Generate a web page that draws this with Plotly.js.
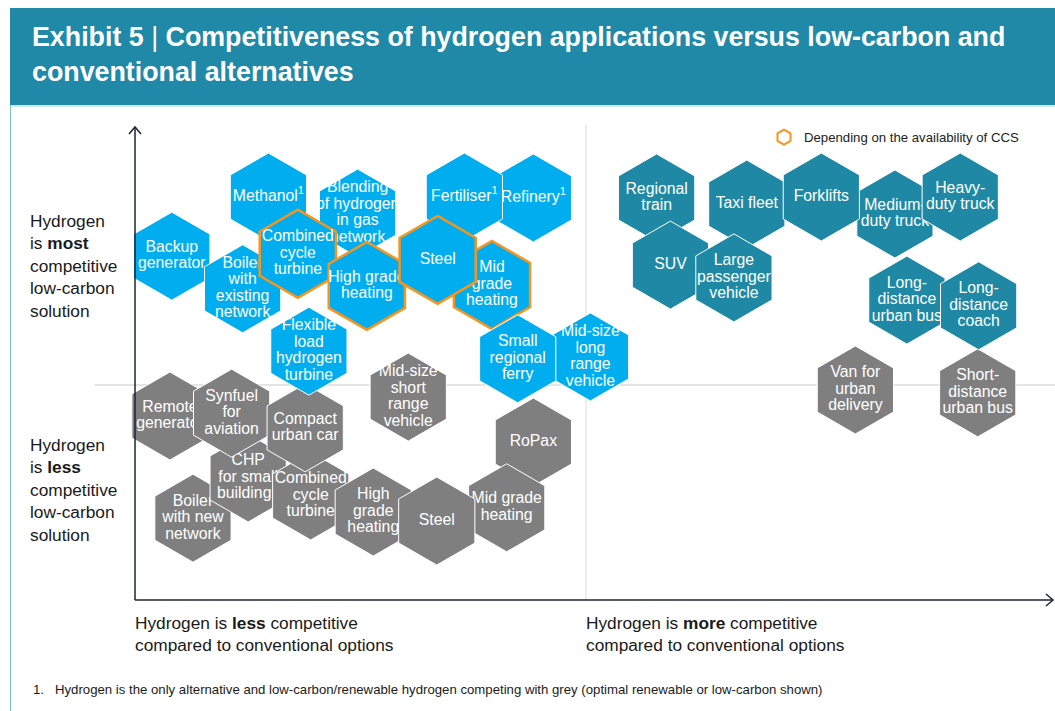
<!DOCTYPE html>
<html>
<head>
<meta charset="utf-8">
<script src="https://cdn.plot.ly/plotly-3.0.1.min.js"></script>
<style>html,body{margin:0;padding:0;background:#fff;}#chart{width:1055px;height:711px;}</style>
</head>
<body>
<div id="chart"></div>
<script>
// ---- Data: position on a 0-100 scale (x: vs conventional options, y: vs low-carbon alternatives)
// Grey: hydrogen less competitive vs low-carbon alternatives (draw order)
const greyLabels = ["Remote|generator","Boiler|with new|network","CHP|for small|buildings","Synfuel|for|aviation","Combined|cycle|turbine","Compact|urban car","High|grade|heating","Mid-size|short|range|vehicle","RoPax","Mid grade|heating","Steel","Van for|urban|delivery","Short-|distance|urban bus"];
const greyX = [3.8, 6.3, 12.3, 10.5, 19.1, 18.5, 25.9, 29.7, 43.3, 40.4, 32.8, 78.3, 91.6];
const greyY = [38.9, 17.3, 25.8, 39.5, 22.0, 36.4, 18.6, 42.9, 33.4, 19.5, 16.7, 44.4, 43.8];

// Light blue: hydrogen most competitive low-carbon, less competitive vs conventional
const blueLabels = ["Refinery<sup>1</sup>","Fertiliser<sup>1</sup>","Methanol<sup>1</sup>","Blending|of hydrogen|in gas|network","Backup|generator","Boiler|with|existing|network","Combined|cycle|turbine","Mid-size|long|range|vehicle","Mid|grade|heating","Small|regional|ferry","High grade|heating","Steel","Flexible|load|hydrogen|turbine"];
const blueX = [43.3, 35.8, 14.5, 24.2, 4.0, 11.7, 17.7, 49.5, 38.8, 41.6, 25.2, 32.9, 18.9];
const blueY = [85.0, 85.2, 85.2, 81.8, 72.7, 65.8, 73.2, 51.4, 66.6, 51.0, 66.4, 71.9, 52.6];
const blueCCS = [false, false, false, false, false, false, true, false, true, false, true, true, false];

// Teal: hydrogen most competitive on both dimensions
const tealLabels = ["Regional|train","SUV","Taxi fleet","Large|passenger|vehicle","Medium-|duty truck","Forklifts","Heavy-|duty truck","Long-|distance|urban bus","Long-|distance|coach"];
const tealX = [56.7, 58.2, 66.5, 65.1, 82.6, 74.6, 89.7, 83.9, 91.7];
const tealY = [85.0, 70.8, 83.7, 68.1, 81.6, 85.2, 85.2, 63.4, 62.2];

const legendLabel = "Depending on the availability of CCS";

// ---- Styling
const W = 1055, H = 711;
const M = {l: 135, r: 0, t: 127, b: 111};
const PW = W - M.l - M.r, PH = H - M.t - M.b;
const FONT = "Liberation Sans, Arial, Helvetica, sans-serif";
const C_GREY = "#7f7f7f", C_BLUE = "#00aeef", C_TEAL = "#1f89a5", C_ORANGE = "#f7941d";
const C_HEAD = "#2089a7";
const HEX = 88;
const lineGap = 16.5 / PH * 100; // text line spacing in data units

// pixel -> paper helpers for decoration
const P = px => (px - M.l) / PW;
const Q = py => (H - M.b - py) / PH;

const traces = [];
function addHex(label, x, y, color, ccs) {
  traces.push({
    x: [x], y: [y], type: "scatter", mode: "markers", cliponaxis: false,
    hoverinfo: "skip", showlegend: false,
    marker: {symbol: "hexagon", size: HEX, color: color,
      line: {color: ccs ? C_ORANGE : "#ffffff", width: ccs ? 2.5 : 1}}
  });
  const lines = label.split("|");
  const n = lines.length;
  traces.push({
    x: lines.map(() => x),
    y: lines.map((_, i) => y + ((n - 1) / 2 - i) * lineGap),
    type: "scatter", mode: "text", text: lines, textposition: "middle center",
    cliponaxis: false, hoverinfo: "skip", showlegend: false,
    textfont: {color: "#ffffff", size: 15.8, family: FONT}
  });
}
greyLabels.forEach((l, i) => addHex(l, greyX[i], greyY[i], C_GREY, false));
blueLabels.forEach((l, i) => addHex(l, blueX[i], blueY[i], C_BLUE, blueCCS[i]));
tealLabels.forEach((l, i) => addHex(l, tealX[i], tealY[i], C_TEAL, false));

// legend key
traces.push({
  x: [null], y: [null], type: "scatter", mode: "markers", name: legendLabel,
  showlegend: true, hoverinfo: "skip",
  marker: {symbol: "hexagon-open", size: 15, color: C_ORANGE, line: {color: C_ORANGE, width: 2}}
});

const AX = "#1b2535";
const shapes = [
  // header band
  {type: "rect", xref: "paper", yref: "paper", x0: P(10), x1: P(1055), y0: Q(105), y1: Q(8),
   fillcolor: C_HEAD, line: {width: 0}, layer: "below"},
  // frame lines
  {type: "line", xref: "paper", yref: "paper", x0: P(10.5), x1: P(10.5), y0: Q(105), y1: Q(711),
   line: {color: "#7cc0d3", width: 1}, layer: "below"},
  {type: "line", xref: "paper", yref: "paper", x0: P(10), x1: P(1055), y0: Q(106), y1: Q(106),
   line: {color: "#9fd2e0", width: 1}, layer: "below"},
  // quadrant dividers
  {type: "line", xref: "paper", yref: "paper", x0: P(95), x1: P(1055), y0: Q(385), y1: Q(385),
   line: {color: "#dcdcdc", width: 1.5}, layer: "below"},
  {type: "line", xref: "paper", yref: "paper", x0: P(586), x1: P(586), y0: Q(125), y1: Q(600),
   line: {color: "#dcdcdc", width: 1}, layer: "below"},
  // axes
  {type: "line", xref: "paper", yref: "paper", x0: P(135), x1: P(135), y0: Q(600), y1: Q(127),
   line: {color: AX, width: 1.5}},
  {type: "line", xref: "paper", yref: "paper", x0: P(135), x1: P(1053), y0: Q(600), y1: Q(600),
   line: {color: AX, width: 1.5}},
  // arrow heads
  {type: "path", xref: "paper", yref: "paper",
   path: `M${P(129)},${Q(134)} L${P(135)},${Q(127)} L${P(141)},${Q(134)}`,
   line: {color: AX, width: 1.5}},
  {type: "path", xref: "paper", yref: "paper",
   path: `M${P(1046)},${Q(594)} L${P(1053)},${Q(600)} L${P(1046)},${Q(606)}`,
   line: {color: AX, width: 1.5}}
];

const TXT = "#1a1a1a";
const LBL = 17.3;
const annotations = [
  {text: "Hydrogen<br>is <b>most</b><br>competitive<br>low-carbon<br>solution", xref: "paper", yref: "paper",
   x: P(28), y: Q(266), xanchor: "left", yanchor: "middle", align: "left", showarrow: false,
   font: {size: LBL, color: TXT, family: FONT}},
  {text: "Hydrogen<br>is <b>less</b><br>competitive<br>low-carbon<br>solution", xref: "paper", yref: "paper",
   x: P(28), y: Q(490), xanchor: "left", yanchor: "middle", align: "left", showarrow: false,
   font: {size: LBL, color: TXT, family: FONT}},
  {text: "Hydrogen is <b>less</b> competitive<br>compared to conventional options", xref: "paper", yref: "paper",
   x: P(133), y: Q(633.5), xanchor: "left", yanchor: "middle", align: "left", showarrow: false,
   font: {size: LBL, color: TXT, family: FONT}},
  {text: "Hydrogen is <b>more</b> competitive<br>compared to conventional options", xref: "paper", yref: "paper",
   x: P(584), y: Q(633.5), xanchor: "left", yanchor: "middle", align: "left", showarrow: false,
   font: {size: LBL, color: TXT, family: FONT}},
  {text: "1.\u00a0\u00a0\u00a0Hydrogen is the only alternative and low-carbon/renewable hydrogen competing with grey (optimal renewable or low-carbon shown)",
   xref: "paper", yref: "paper", x: P(31), y: Q(689), xanchor: "left", yanchor: "middle", align: "left",
   showarrow: false, font: {size: 13.2, color: TXT, family: FONT}}
];

const layout = {
  width: W, height: H,
  margin: M,
  paper_bgcolor: "#ffffff", plot_bgcolor: "rgba(0,0,0,0)",
  title: {
    text: "<b>Exhibit 5</b> | <b>Competitiveness of hydrogen applications versus low-carbon and</b><br><b>conventional alternatives</b>",
    xref: "container", yref: "container", x: 32 / W, xanchor: "left", y: 1 - 46 / H, yanchor: "top",
    font: {size: 26.8, color: "#ffffff", family: FONT}
  },
  xaxis: {range: [0, 100], visible: false, fixedrange: true},
  yaxis: {range: [0, 100], visible: false, fixedrange: true},
  showlegend: true,
  legend: {x: P(764), y: Q(122), xanchor: "left", yanchor: "top", bgcolor: "rgba(0,0,0,0)",
    font: {size: 13.2, color: "#222222", family: FONT}, itemwidth: 30},
  shapes: shapes,
  annotations: annotations,
  hovermode: false
};

Plotly.newPlot("chart", traces, layout, {displayModeBar: false, staticPlot: true});
</script>
</body>
</html>
